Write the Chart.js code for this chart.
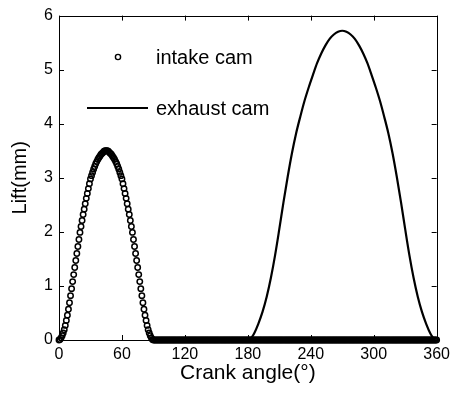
<!DOCTYPE html>
<html>
<head>
<meta charset="utf-8">
<script src="https://cdn.jsdelivr.net/npm/chart.js@4/dist/chart.umd.min.js"></script>
<style>
  html, body { margin: 0; padding: 0; background: #fff; }
  #wrap { width: 455px; height: 400px; }
</style>
</head>
<body>
<div id="wrap"><canvas id="c" width="455" height="400"></canvas></div>
<script>
// ---- data ----
const crankAngle = [
  0,1,2,3,4,5,6,7,8,9,10,11,12,13,14,15,16,17,18,19,
  20,21,22,23,24,25,26,27,28,29,30,31,32,33,34,35,36,37,38,39,
  40,41,42,43,44,45,46,47,48,49,50,51,52,53,54,55,56,57,58,59,
  60,61,62,63,64,65,66,67,68,69,70,71,72,73,74,75,76,77,78,79,
  80,81,82,83,84,85,86,87,88,89,90,91,92,93,94,95,96,97,98,99,
  100,101,102,103,104,105,106,107,108,109,110,111,112,113,114,115,116,117,118,119,
  120,121,122,123,124,125,126,127,128,129,130,131,132,133,134,135,136,137,138,139,
  140,141,142,143,144,145,146,147,148,149,150,151,152,153,154,155,156,157,158,159,
  160,161,162,163,164,165,166,167,168,169,170,171,172,173,174,175,176,177,178,179,
  180,181,182,183,184,185,186,187,188,189,190,191,192,193,194,195,196,197,198,199,
  200,201,202,203,204,205,206,207,208,209,210,211,212,213,214,215,216,217,218,219,
  220,221,222,223,224,225,226,227,228,229,230,231,232,233,234,235,236,237,238,239,
  240,241,242,243,244,245,246,247,248,249,250,251,252,253,254,255,256,257,258,259,
  260,261,262,263,264,265,266,267,268,269,270,271,272,273,274,275,276,277,278,279,
  280,281,282,283,284,285,286,287,288,289,290,291,292,293,294,295,296,297,298,299,
  300,301,302,303,304,305,306,307,308,309,310,311,312,313,314,315,316,317,318,319,
  320,321,322,323,324,325,326,327,328,329,330,331,332,333,334,335,336,337,338,339,
  340,341,342,343,344,345,346,347,348,349,350,351,352,353,354,355,356,357,358,359,
  360
];
const intakeLift = [
  0.00,0.01,0.04,0.08,0.13,0.19,0.27,0.36,0.46,0.57,0.69,0.82,0.95,1.08,1.21,1.34,1.47,1.60,1.73,1.86,
  1.99,2.10,2.21,2.32,2.42,2.52,2.62,2.71,2.80,2.89,2.98,3.04,3.10,3.16,3.21,3.26,3.30,3.34,3.37,3.40,
  3.43,3.45,3.47,3.49,3.50,3.50,3.50,3.49,3.47,3.45,3.43,3.40,3.37,3.34,3.30,3.26,3.21,3.16,3.10,3.04,
  2.98,2.89,2.80,2.71,2.62,2.52,2.42,2.32,2.21,2.10,1.99,1.86,1.73,1.60,1.47,1.34,1.21,1.08,0.95,0.82,
  0.69,0.57,0.46,0.36,0.27,0.19,0.13,0.08,0.04,0.01,0.00,0,0,0,0,0,0,0,0,0,
  0,0,0,0,0,0,0,0,0,0,0,0,0,0,0,0,0,0,0,0,
  0,0,0,0,0,0,0,0,0,0,0,0,0,0,0,0,0,0,0,0,
  0,0,0,0,0,0,0,0,0,0,0,0,0,0,0,0,0,0,0,0,
  0,0,0,0,0,0,0,0,0,0,0,0,0,0,0,0,0,0,0,0,
  0,0,0,0,0,0,0,0,0,0,0,0,0,0,0,0,0,0,0,0,
  0,0,0,0,0,0,0,0,0,0,0,0,0,0,0,0,0,0,0,0,
  0,0,0,0,0,0,0,0,0,0,0,0,0,0,0,0,0,0,0,0,
  0,0,0,0,0,0,0,0,0,0,0,0,0,0,0,0,0,0,0,0,
  0,0,0,0,0,0,0,0,0,0,0,0,0,0,0,0,0,0,0,0,
  0,0,0,0,0,0,0,0,0,0,0,0,0,0,0,0,0,0,0,0,
  0,0,0,0,0,0,0,0,0,0,0,0,0,0,0,0,0,0,0,0,
  0,0,0,0,0,0,0,0,0,0,0,0,0,0,0,0,0,0,0,0,
  0,0,0,0,0,0,0,0,0,0,0,0,0,0,0,0,0,0,0,0,
  0
];
const exhaustAngle = [
  182,186,190,194,198,202,206,210,214,218,222,226,230,234,238,242,246,250,254,258,262,266,
  270,
  274,278,282,286,290,294,298,302,306,310,314,318,322,326,330,334,338,342,346,350,354,358
];
const exhaustLift = [
  0.00,0.12,0.30,0.52,0.80,1.15,1.57,2.05,2.55,3.02,3.45,3.82,4.13,4.42,4.67,4.90,5.12,5.30,5.45,5.57,5.65,5.70,
  5.72,
  5.70,5.65,5.57,5.45,5.30,5.12,4.90,4.67,4.42,4.13,3.82,3.45,3.02,2.55,2.05,1.57,1.15,0.80,0.52,0.30,0.12,0.00
];
const seriesNames = ['intake cam', 'exhaust cam'];
const xTicks = [0, 60, 120, 180, 240, 300, 360];
const yTicks = [0, 1, 2, 3, 4, 5, 6];
const xTitle = 'Crank angle(°)';
const yTitle = 'Lift(mm)';

// ---- drawing ----
const FONT = '"Liberation Sans", Arial, Helvetica, sans-serif';

const framePlugin = {
  id: 'frame',
  beforeDatasetsDraw(chart) {
    const { ctx, chartArea: a, scales: { x, y } } = chart;
    ctx.save();
    ctx.strokeStyle = '#000';
    ctx.lineWidth = 1;
    ctx.strokeRect(Math.round(a.left) + 0.5, Math.round(a.top) + 0.5,
                   Math.round(a.right - a.left), Math.round(a.bottom - a.top));
    const L = 5;
    ctx.beginPath();
    x.ticks.forEach(t => {
      const px = Math.round(x.getPixelForValue(t.value)) + 0.5;
      ctx.moveTo(px, a.bottom); ctx.lineTo(px, a.bottom - L);
      ctx.moveTo(px, a.top); ctx.lineTo(px, a.top + L);
    });
    y.ticks.forEach(t => {
      const py = Math.round(y.getPixelForValue(t.value)) + 0.5;
      ctx.moveTo(a.left, py); ctx.lineTo(a.left + L, py);
      ctx.moveTo(a.right, py); ctx.lineTo(a.right - L, py);
    });
    ctx.stroke();
    ctx.restore();
  }
};

const legendPlugin = {
  id: 'inlegend',
  afterDraw(chart) {
    const { ctx } = chart;
    const ds = chart.data.datasets;
    ctx.save();
    ctx.strokeStyle = '#000';
    ctx.fillStyle = '#000';
    // intake marker
    ctx.lineWidth = 1.4;
    ctx.beginPath();
    ctx.arc(118, 57, 2.6, 0, Math.PI * 2);
    ctx.stroke();
    // exhaust line
    ctx.lineWidth = 2;
    ctx.beginPath();
    ctx.moveTo(87, 108); ctx.lineTo(148, 108);
    ctx.stroke();
    ctx.font = '20px ' + FONT;
    ctx.textBaseline = 'alphabetic';
    ctx.textAlign = 'left';
    ctx.fillText(ds[0].label, 156, 64);
    ctx.fillText(ds[1].label, 156, 115);
    ctx.restore();
  }
};

new Chart(document.getElementById('c'), {
  type: 'scatter',
  data: {
    datasets: [
      {
        label: seriesNames[0],
        data: intakeLift.map((v, i) => ({ x: crankAngle[i], y: v })),
        showLine: false,
        pointStyle: 'circle',
        pointRadius: 2.7,
        pointBorderWidth: 1.5,
        pointBorderColor: '#000',
        pointBackgroundColor: 'rgba(0,0,0,0)',
        clip: false
      },
      {
        label: seriesNames[1],
        data: exhaustLift.map((v, i) => ({ x: exhaustAngle[i], y: v })),
        showLine: true,
        borderColor: '#000',
        borderWidth: 2.2,
        pointRadius: 0,
        cubicInterpolationMode: 'monotone',
        clip: false
      }
    ]
  },
  options: {
    responsive: false,
    animation: false,
    devicePixelRatio: 1,
    layout: { padding: { top: 13, right: 16, left: 0, bottom: 0 } },
    plugins: { legend: { display: false }, tooltip: { enabled: false } },
    scales: {
      x: {
        type: 'linear', min: 0, max: 360,
        afterBuildTicks: s => { s.ticks = xTicks.map(v => ({ value: v })); },
        afterFit: s => { s.height = 60; },
        grid: { display: false, drawTicks: false },
        border: { display: false },
        ticks: { color: '#000', font: { family: FONT, size: 16 }, padding: 5, maxRotation: 0, autoSkip: false },
        title: { display: true, text: xTitle, color: '#000', font: { family: FONT, size: 21 }, padding: { top: 0, bottom: 14 } }
      },
      y: {
        type: 'linear', min: 0, max: 6,
        afterBuildTicks: s => { s.ticks = yTicks.map(v => ({ value: v })); },
        afterFit: s => { s.width = 59; },
        grid: { display: false, drawTicks: false },
        border: { display: false },
        ticks: { color: '#000', font: { family: FONT, size: 16 }, padding: 6, autoSkip: false },
        title: { display: true, text: yTitle, color: '#000', font: { family: FONT, size: 20 }, padding: { top: 8, bottom: 0 } }
      }
    }
  },
  plugins: [framePlugin, legendPlugin]
});
</script>
</body>
</html>
